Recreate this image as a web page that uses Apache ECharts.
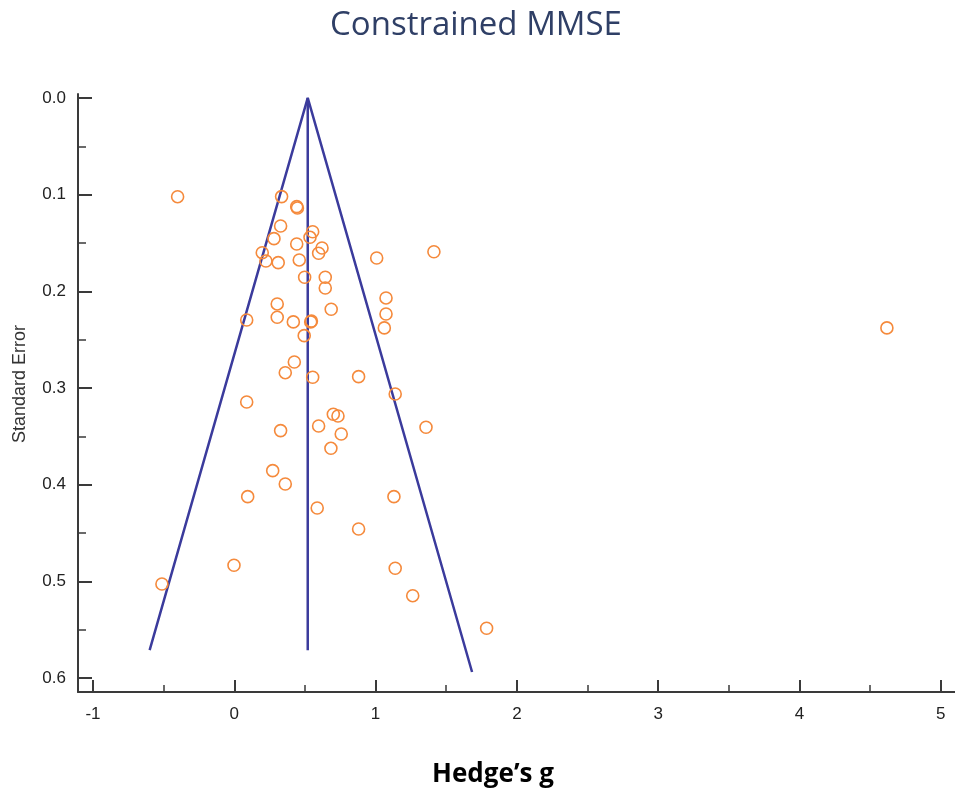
<!DOCTYPE html>
<html>
<head>
<meta charset="utf-8">
<script src="https://cdn.jsdelivr.net/npm/echarts@6/dist/echarts.min.js"></script>
<style>
html,body{margin:0;padding:0;background:#fff;}
#chart{width:955px;height:789px;}
</style>
</head>
<body>
<div id="chart"></div>
<script>
// Study effects: Hedge's g (x) and standard error (y)
const hedgesG = [
  -0.401, 0.335, 0.442, 0.447, 0.328, 0.555, 0.536, 0.281, 0.442, 0.621,
  0.597, 0.198, 0.224, 0.311, 0.460, 1.008, 1.413, 0.498, 0.644, 0.644,
  1.074, 0.304, 0.686, 1.074, 0.304, 0.088, 0.418, 0.541, 0.546, 1.062,
  0.495, 4.619, 0.425, 0.361, 0.555, 0.880, 1.139, 0.088, 0.701, 0.734,
  0.597, 0.328, 0.757, 1.357, 0.684, 0.272, 0.361, 0.095, 1.130, 0.587,
  0.880, -0.002, 1.139, -0.512, 1.263, 1.786
];
const standardErrors = [
  0.1021, 0.1020, 0.1124, 0.1138, 0.1324, 0.1383, 0.1441, 0.1455, 0.1510, 0.1551,
  0.1606, 0.1600, 0.1686, 0.1703, 0.1675, 0.1655, 0.1590, 0.1854, 0.1854, 0.1965,
  0.2068, 0.2130, 0.2185, 0.2234, 0.2268, 0.2296, 0.2316, 0.2316, 0.2306, 0.2378,
  0.2458, 0.2378, 0.2730, 0.2841, 0.2888, 0.2882, 0.3061, 0.3144, 0.3271, 0.3289,
  0.3392, 0.3440, 0.3475, 0.3405, 0.3623, 0.3854, 0.3992, 0.4123, 0.4123, 0.4240,
  0.4457, 0.4832, 0.4863, 0.5026, 0.5147, 0.5484
];
// Funnel outline (pooled estimate and pseudo 95% limits)
const pooledEffect = 0.52;
const funnelX = [-0.599, 0.52, 1.683];
const funnelY = [0.571, 0.0, 0.5936];
const centerLineY = [0.0, 0.571];
// Tick labels
const xTicks = [-1, 0, 1, 2, 3, 4, 5];
const xMinorTicks = [-0.5, 0.5, 1.5, 2.5, 3.5, 4.5];
const yTicks = [0, 0.1, 0.2, 0.3, 0.4, 0.5, 0.6];
const yMinorTicks = [0.05, 0.15, 0.25, 0.35, 0.45, 0.55];

const points = hedgesG.map((g, i) => [g, standardErrors[i]]);
const funnelData = funnelX.map((x, i) => [x, funnelY[i]]);
const centerData = centerLineY.map(y => [pooledEffect, y]);

const axisColor = '#3a3a3a';
const labelFont = 'Liberation Sans, Arial, sans-serif';

const chart = echarts.init(document.getElementById('chart'));
chart.setOption({
  animation: false,
  backgroundColor: '#ffffff',
  title: [
    {
      text: 'Constrained MMSE',
      left: 471, top: 4, textAlign: 'center',
      textStyle: {fontFamily: 'Open Sans', fontSize: 33, fontWeight: 'normal', color: '#2f3f66'}
    },
    {
      text: 'Hedge\u2019s g',
      left: 488, top: 757, textAlign: 'center',
      textStyle: {fontFamily: 'Open Sans', fontSize: 26, fontWeight: 'bold', color: '#000'}
    }
  ],
  graphic: [
    {
      type: 'text', x: 20, y: 384, rotation: Math.PI / 2,
      style: {text: 'Standard Error', fontFamily: labelFont, fontSize: 18, fill: '#333',
        align: 'center', verticalAlign: 'middle'}
    }
  ],
  grid: {left: 78, right: 0, top: 94, bottom: 97, containLabel: false},
  xAxis: [
    {
      type: 'value', min: -1.106, max: 5.101,
      splitLine: {show: false},
      axisLine: {show: true, onZero: false, lineStyle: {color: axisColor, width: 2}},
      axisTick: {show: true, inside: true, length: 12, customValues: xTicks, lineStyle: {color: axisColor, width: 2}},
      axisLabel: {show: true, customValues: xTicks, margin: 14, fontFamily: labelFont, fontSize: 17, color: '#222',
        formatter: v => String(v)}
    },
    {
      type: 'value', min: -1.106, max: 5.101, position: 'bottom',
      splitLine: {show: false},
      axisLine: {show: false, onZero: false},
      axisTick: {show: true, inside: true, length: 7, customValues: xMinorTicks, lineStyle: {color: axisColor, width: 1.5}},
      axisLabel: {show: false}
    }
  ],
  yAxis: [
    {
      type: 'value', inverse: true, min: -0.0041, max: 0.6143,
      splitLine: {show: false},
      axisLine: {show: true, onZero: false, lineStyle: {color: axisColor, width: 2}},
      axisTick: {show: true, inside: true, length: 14, customValues: yTicks, lineStyle: {color: axisColor, width: 2}},
      axisLabel: {show: true, customValues: yTicks, margin: 12, fontFamily: labelFont, fontSize: 17, color: '#222',
        formatter: v => v.toFixed(1)}
    },
    {
      type: 'value', inverse: true, min: -0.0041, max: 0.6143, position: 'left',
      splitLine: {show: false},
      axisLine: {show: false, onZero: false},
      axisTick: {show: true, inside: true, length: 8, customValues: yMinorTicks, lineStyle: {color: axisColor, width: 1.5}},
      axisLabel: {show: false}
    }
  ],
  series: [
    {
      type: 'line', data: funnelData, xAxisIndex: 0, yAxisIndex: 0,
      symbol: 'none', lineStyle: {color: '#3b3b9c', width: 2.5}, z: 2
    },
    {
      type: 'line', data: centerData, xAxisIndex: 0, yAxisIndex: 0,
      symbol: 'none', lineStyle: {color: '#3b3b9c', width: 2.5}, z: 2
    },
    {
      type: 'scatter', data: points, xAxisIndex: 0, yAxisIndex: 0,
      symbol: 'circle', symbolSize: 12,
      itemStyle: {color: 'rgba(255,255,255,0)', borderColor: '#f58a3c', borderWidth: 1.6, opacity: 1},
      z: 3
    }
  ]
});
</script>
</body>
</html>
